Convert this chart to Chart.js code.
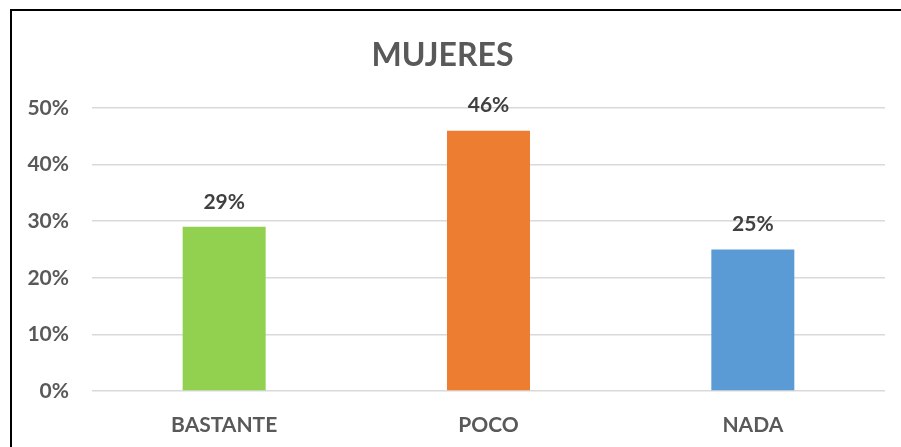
<!DOCTYPE html>
<html>
<head>
<meta charset="utf-8">
<script src="https://cdn.jsdelivr.net/npm/chart.js@4"></script>
<style>
  html,body{margin:0;padding:0;background:#fff;}
  #wrap{position:relative;width:901px;height:447px;}
  #frame{position:absolute;left:10px;top:9px;right:0;bottom:0;border-left:2px solid #000;border-top:2px solid #000;pointer-events:none;}
</style>
</head>
<body>
<div id="wrap">
  <canvas id="chart" width="901" height="447"></canvas>
  <div id="frame"></div>
</div>
<script>
/* MUJERES - bar chart */
const categories = ['BASTANTE', 'POCO', 'NADA'];
const values = [29, 46, 25];
const barColors = ['#92D050', '#ED7D31', '#5B9BD5'];
const yTicks = [0, 10, 20, 30, 40, 50];

const FONT = 'Lato, Carlito, "Open Sans", sans-serif';

// value labels above each bar
const valueLabels = {
  id: 'valueLabels',
  afterDatasetsDraw(chart){
    const {ctx} = chart;
    const meta = chart.getDatasetMeta(0);
    ctx.save();
    ctx.font = 'bold 21px ' + FONT;
    ctx.fillStyle = '#404040';
    ctx.textAlign = 'center';
    ctx.textBaseline = 'middle';
    meta.data.forEach((bar, i)=>{
      ctx.fillText(values[i] + '%', bar.x, bar.y - 25);
    });
    ctx.restore();
  }
};

new Chart(document.getElementById('chart'), {
  type: 'bar',
  data: {
    labels: categories,
    datasets: [{
      data: values,
      backgroundColor: barColors,
      barPercentage: 0.314,
      categoryPercentage: 1
    }]
  },
  options: {
    responsive: false,
    animation: false,
    layout: { padding: { top: 12, right: 16, bottom: 12, left: 0 } },
    plugins: {
      legend: { display: false },
      tooltip: { enabled: false },
      title: {
        display: true,
        text: 'MUJERES',
        color: '#595959',
        font: { family: FONT, size: 32, weight: 'bold', lineHeight: 1.2 },
        padding: { top: 24, bottom: 33.6 }
      }
    },
    scales: {
      x: {
        afterFit(s){ s.height = 44; },
        grid: { display: false, drawTicks: false },
        border: { display: false },
        ticks: { color: '#595959', padding: 22, font: { family: FONT, size: 21, weight: 'bold' } }
      },
      y: {
        min: 0,
        max: 50,
        afterBuildTicks(s){ s.ticks = yTicks.map(v=>({value:v})); },
        afterFit(s){ s.width = 92; },
        grid: { color: '#d9d9d9', lineWidth: 1.5, drawTicks: false },
        border: { display: false },
        ticks: {
          color: '#595959',
          padding: 23,
          font: { family: FONT, size: 21, weight: 'bold' },
          callback: v => v + '%'
        }
      }
    }
  },
  plugins: [valueLabels]
});
</script>
</body>
</html>
